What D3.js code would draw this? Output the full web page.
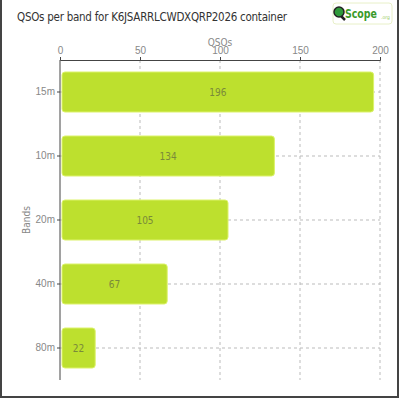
<!DOCTYPE html>
<html>
<head>
<meta charset="utf-8">
<script src="https://cdn.jsdelivr.net/npm/d3@7"></script>
<style>
    body { margin: 0; background: #fff; }
    svg { display: block; font-family: "DejaVu Sans Condensed", "DejaVu Sans", sans-serif; }
    .grid line { stroke: #bbb; stroke-dasharray: 3,3; }
    .axis text { fill: #888; font-size: 10px; }
    .axis path, .axis line { stroke: #444; }
</style>
</head>
<body>
<svg id="chart" width="400" height="400"></svg>
<script>
const bands = ["15m", "10m", "20m", "40m", "80m"];
const qsos = [196, 134, 105, 67, 22];
const xTicks = [0, 50, 100, 150, 200];

const svg = d3.select("#chart");
const margin = { top: 60, right: 20, bottom: 20, left: 60 };
const width = 400 - margin.left - margin.right;
const height = 400 - margin.top - margin.bottom;

// frame
svg.append("rect")
    .attr("x", 1).attr("y", -3)
    .attr("width", 397).attr("height", 400)
    .attr("fill", "none").attr("stroke", "#444").attr("stroke-width", 2);

svg.append("text")
    .attr("x", 17).attr("y", 21)
    .attr("font-size", 11.5)
    .attr("fill", "#333")
    .attr("textLength", 270)
    .text("QSOs per band for K6JSARRLCWDXQRP2026 container");

// logo
const logo = svg.append("g").attr("transform", "translate(333,3)");
logo.append("rect").attr("width", 59).attr("height", 21).attr("rx", 3)
    .attr("fill", "#fff").attr("stroke", "#e8f0c8");
logo.append("line").attr("x1", 7).attr("y1", 12).attr("x2", 12).attr("y2", 17)
    .attr("stroke", "#222").attr("stroke-width", 2.5);
logo.append("circle").attr("cx", 6).attr("cy", 9).attr("r", 5)
    .attr("fill", "#2e9a3a").attr("stroke", "#222").attr("stroke-width", 1.5);
logo.append("text").attr("x", 12).attr("y", 15).attr("font-size", 12)
    .attr("font-weight", "bold").attr("fill", "#3a9a2a")
    .attr("textLength", 32).attr("lengthAdjust", "spacingAndGlyphs").text("Scope");
logo.append("text").attr("x", 48).attr("y", 16).attr("font-size", 5)
    .attr("fill", "#9c6").text(".org");

const g = svg.append("g").attr("transform", `translate(${margin.left},${margin.top})`);

const x = d3.scaleLinear().domain([0, 200]).range([0, width]);
const y = d3.scaleBand().domain(bands).range([0, height]).paddingInner(0.375).paddingOuter(0.1875);

// grid
g.append("g").attr("class", "grid")
    .selectAll("line.v").data(xTicks.slice(1)).join("line")
    .attr("x1", d => x(d)).attr("x2", d => x(d))
    .attr("y1", 0).attr("y2", height);
g.append("g").attr("class", "grid")
    .selectAll("line.h").data(bands).join("line")
    .attr("x1", 0).attr("x2", width)
    .attr("y1", d => y(d) + y.bandwidth() / 2)
    .attr("y2", d => y(d) + y.bandwidth() / 2);

// bars
g.selectAll("rect.bar").data(bands).join("rect")
    .attr("class", "bar")
    .attr("x", 2)
    .attr("y", d => y(d))
    .attr("width", (d, i) => x(qsos[i]) - 2)
    .attr("height", y.bandwidth())
    .attr("rx", 3)
    .attr("fill", "#bde02e")
    .attr("stroke", "#dcf26a")
    .attr("stroke-width", 1);

g.selectAll("text.val").data(bands).join("text")
    .attr("class", "val")
    .attr("x", (d, i) => (x(qsos[i]) + 2) / 2)
    .attr("y", d => y(d) + y.bandwidth() / 2)
    .attr("dy", "0.35em")
    .attr("text-anchor", "middle")
    .attr("font-size", 10)
    .attr("fill", "#7a8a3a")
    .text((d, i) => qsos[i]);

// axes
g.append("g").attr("class", "axis")
    .call(d3.axisTop(x).tickValues(xTicks).tickSize(3).tickPadding(3));
g.append("g").attr("class", "axis")
    .call(d3.axisLeft(y).tickSize(3).tickPadding(2))
    .call(a => a.select(".domain").attr("d", `M0,0V${height}`));

g.append("text")
    .attr("x", width / 2).attr("y", -14)
    .attr("text-anchor", "middle").attr("font-size", 10).attr("fill", "#888")
    .text("QSOs");
g.append("text")
    .attr("transform", `translate(-30,${height / 2}) rotate(-90)`)
    .attr("text-anchor", "middle").attr("font-size", 10).attr("fill", "#888")
    .text("Bands");
</script>
</body>
</html>
